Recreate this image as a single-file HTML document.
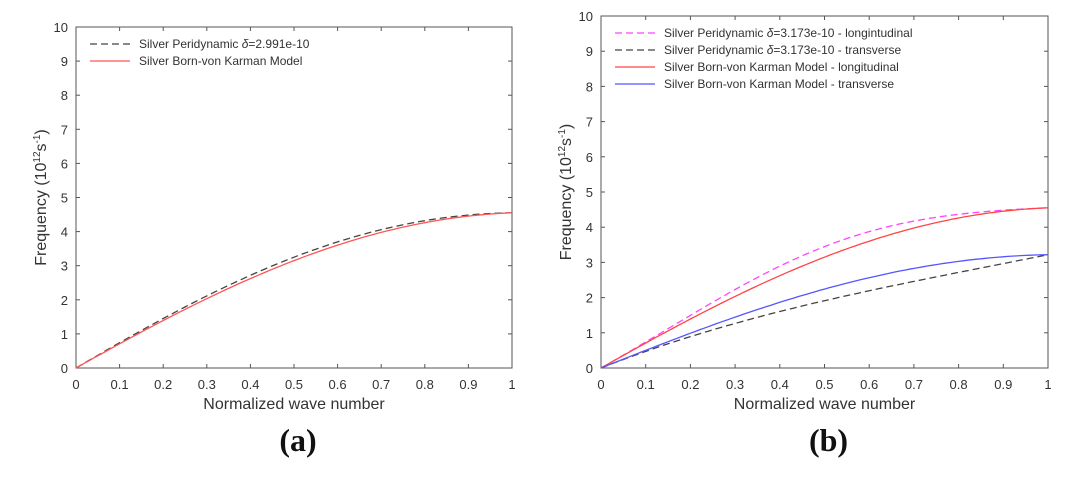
<!DOCTYPE html><html><head><style>body{margin:0;background:#fff}svg{display:block}text{font-family:"Liberation Sans",sans-serif;fill:#333}</style></head><body>
<svg id="s" width="1080" height="491" xmlns="http://www.w3.org/2000/svg"></svg>
<script>
const s=document.getElementById('s');let h='';
function plot(x0,x1,y0,y1,series,legend,lab){
 const X=k=>x0+(x1-x0)*k,Y=v=>y0-(y0-y1)*v/10;
 h+=`<rect x="${x0}" y="${y1}" width="${x1-x0}" height="${y0-y1}" fill="none" stroke="#555" stroke-width="1"/>`;
 for(let i=0;i<=10;i++){const x=X(i/10);h+=`<line x1="${x}" y1="${y0}" x2="${x}" y2="${y0-4}" stroke="#555"/><line x1="${x}" y1="${y1}" x2="${x}" y2="${y1+4}" stroke="#555"/><text x="${x}" y="${y0+21}" font-size="13" text-anchor="middle">${i==0?0:i==10?1:(i/10).toFixed(1)}</text>`;
 const y=Y(i);h+=`<line x1="${x0}" y1="${y}" x2="${x0+4}" y2="${y}" stroke="#555"/><line x1="${x1}" y1="${y}" x2="${x1-4}" y2="${y}" stroke="#555"/><text x="${x0-8}" y="${y+5}" font-size="13" text-anchor="end">${i}</text>`;}
 series.forEach(([f,c,d])=>{let p='';for(let i=0;i<=100;i++){const k=i/100;p+=(i?'L':'M')+X(k).toFixed(1)+','+Y(f(k)).toFixed(1);}h+=`<path d="${p}" fill="none" stroke="${c}" stroke-width="1.3" ${d?'stroke-dasharray="7,4"':''}/>`;});
 legend.forEach(([t,c,d],i)=>{const y=y1+21+i*17;h+=`<line x1="${x0+14}" y1="${y-4}" x2="${x0+54}" y2="${y-4}" stroke="${c}" stroke-width="1.3" ${d?'stroke-dasharray="7,4"':''}/><text x="${x0+63}" y="${y}" font-size="12">${t}</text>`;});
 const cx=(x0+x1)/2;
 h+=`<text x="${cx}" y="${y0+41}" font-size="16" text-anchor="middle">Normalized wave number</text>`;
 h+=`<text transform="translate(${x0-30},${(y0+y1)/2}) rotate(-90)" font-size="16" text-anchor="middle">Frequency (10<tspan font-size="10" dy="-6">12</tspan><tspan dy="6">s</tspan><tspan font-size="10" dy="-6">-1</tspan><tspan dy="6">)</tspan></text>`;
 h+=`<text x="${cx+4}" y="${y0+83}" font-size="32" font-weight="bold" text-anchor="middle" style="font-family:'Liberation Serif',serif;fill:#111">${lab}</text>`;
}
const S=Math.sin,P=Math.PI;
const sh=k=>{const c=1.604*k-0.499*k*k-0.105*k*k*k;return 0.5*c+0.5*S(P*k/2);};
const red=k=>4.55*(0.7*sh(k)+0.3*S(P*k/2));
plot(76,512,368,27,[[k=>red(k)+0.1*S(P*k),'#444',1],[red,'#f55',0]],
 [['Silver Peridynamic <tspan font-style="italic">δ</tspan>=2.991e-10','#444',1],['Silver Born-von Karman Model','#f55',0]],'(a)');
plot(601,1048,368,16,[[k=>red(k)+0.3*Math.pow(S(P*k),2),'#f4f',1],[k=>3.22*(1.55*k-0.9*k*k+0.35*k*k*k),'#444',1],[red,'#f44',0],[k=>3.22*(0.5*sh(k)+0.5*S(P*k/2)),'#55f',0]],
 [['Silver Peridynamic <tspan font-style="italic">δ</tspan>=3.173e-10 - longintudinal','#f4f',1],['Silver Peridynamic <tspan font-style="italic">δ</tspan>=3.173e-10 - transverse','#444',1],['Silver Born-von Karman Model - longitudinal','#f44',0],['Silver Born-von Karman Model - transverse','#55f',0]],'(b)');
s.innerHTML=h;
</script></body></html>
